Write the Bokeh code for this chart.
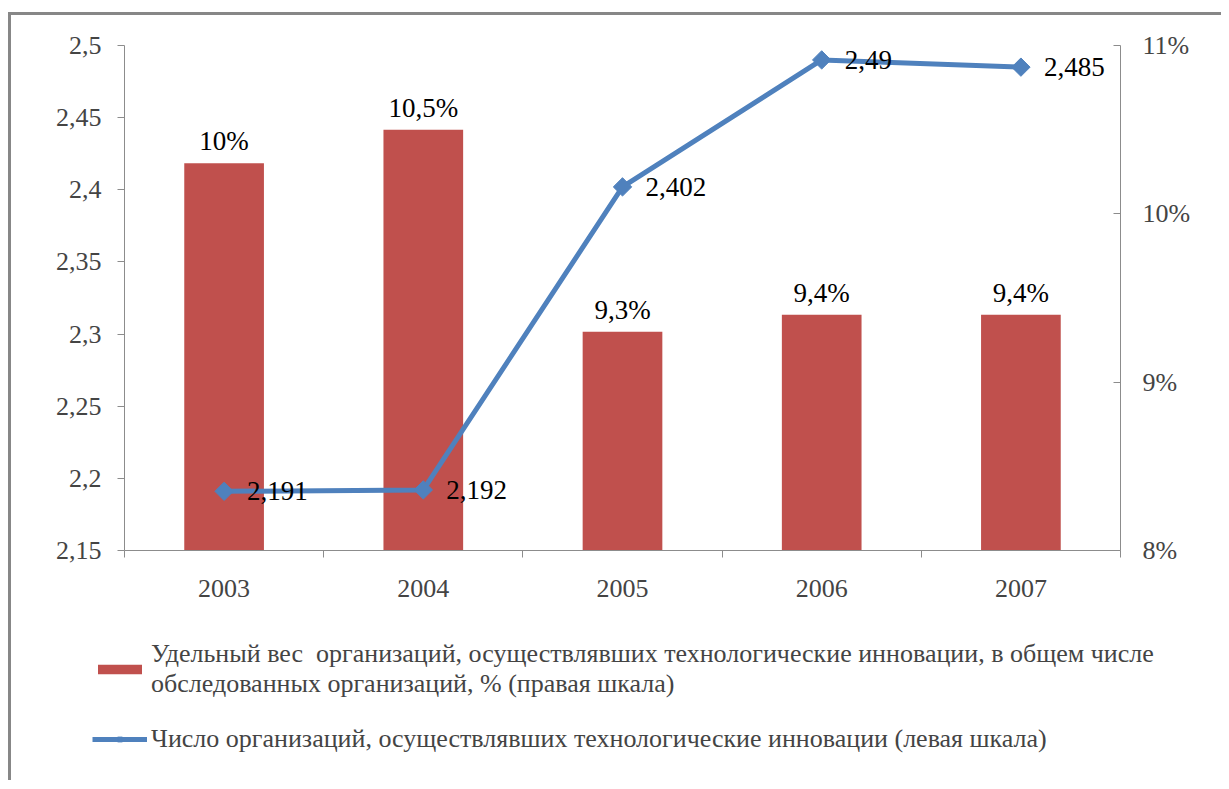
from bokeh.plotting import figure
from bokeh.models import (Range1d, LinearAxis, FixedTicker, CustomJSTickFormatter,
                          ColumnDataSource, Legend, LegendItem)
from bokeh.core.properties import value
from bokeh.embed import file_html
from bokeh.resources import INLINE

years = ["2003", "2004", "2005", "2006", "2007"]
share_pct = [10.3, 10.5, 9.3, 9.4, 9.4]
share_labels = ["10%", "10,5%", "9,3%", "9,4%", "9,4%"]
org_count = [2.191, 2.192, 2.402, 2.49, 2.485]
left_ticks = [2.15, 2.2, 2.25, 2.3, 2.35, 2.4, 2.45, 2.5]
right_ticks = [8, 9, 10, 11]
legend_bar = ("Удельный вес  организаций, осуществлявших технологические инновации, в общем числе\n"
              "обследованных организаций, % (правая шкала)")
legend_line = "Число организаций, осуществлявших технологические инновации (левая шкала)"

FONT = "Liberation Serif"
FS = "26px"
BAR = "#C0504D"
LINE = "#4F81BD"
AX = "#8C8C8C"

xs = [i + 0.5 for i in range(len(years))]
src = ColumnDataSource(dict(
    x=xs, share=share_pct, share_lbl=share_labels,
    cnt=org_count, cnt_lbl=[str(v).replace(".", ",") for v in org_count],
))

p = figure(output_backend="svg", toolbar_location=None,
           x_range=Range1d(0, len(years)), y_range=Range1d(left_ticks[0], left_ticks[-1]),
           min_border_left=113, min_border_right=101, min_border_top=30, min_border_bottom=70)
p.frame_width = 996
p.frame_height = 505
p.styles = {"border-top": "3px solid #878787", "border-left": "3px solid #878787",
            "margin-top": "12px", "margin-left": "8px"}
p.outline_line_color = None
p.grid.visible = False
p.background_fill_color = "white"
p.border_fill_color = "white"

p.extra_y_ranges = {"pct": Range1d(right_ticks[0], right_ticks[-1])}

p.vbar(x="x", top="share", bottom=right_ticks[0], width=0.4, source=src,
       y_range_name="pct", fill_color=BAR, line_color=None)
p.line(x="x", y="cnt", source=src, line_color=LINE, line_width=5)
p.scatter(x="x", y="cnt", source=src, marker="square", size=13, angle=0.785398,
          fill_color=LINE, line_color=LINE)

p.text(x="x", y="share", text="share_lbl", source=src, y_range_name="pct",
       text_align="center", text_baseline="bottom", y_offset=-7,
       text_font=value(FONT), text_font_size="27px", text_color="black")
p.text(x="x", y="cnt", text="cnt_lbl", source=src, x_offset=23,
       text_align="left", text_baseline="middle",
       text_font=value(FONT), text_font_size="27px", text_color="black")

# x axis
xa = p.xaxis[0]
xa.ticker = FixedTicker(ticks=xs, minor_ticks=list(range(len(years) + 1)))
xa.major_label_overrides = {x: y for x, y in zip(xs, years)}
xa.major_tick_out = 0
xa.major_tick_in = 0
xa.minor_tick_out = 7
xa.minor_tick_in = 0
xa.minor_tick_line_color = AX
xa.axis_line_color = AX
xa.major_label_standoff = 22
xa.major_label_text_font = FONT
xa.major_label_text_font_size = FS

# left axis
ya = p.yaxis[0]
ya.ticker = FixedTicker(ticks=left_ticks)
ya.formatter = CustomJSTickFormatter(code="return tick.toFixed(2).replace(/0+$/, '').replace('.', ',');")
ya.major_tick_out = 7
ya.major_tick_in = 0
ya.minor_tick_line_color = None
ya.major_tick_line_color = AX
ya.axis_line_color = AX
ya.major_label_standoff = 16
ya.major_label_text_font = FONT
ya.major_label_text_font_size = FS

# right axis
ra = LinearAxis(y_range_name="pct", ticker=FixedTicker(ticks=right_ticks),
                formatter=CustomJSTickFormatter(code="return tick.toFixed(0) + '%';"))
ra.major_tick_out = 0
ra.major_tick_in = 7
ra.minor_tick_line_color = None
ra.major_tick_line_color = AX
ra.axis_line_color = AX
ra.major_label_standoff = 22
ra.major_label_text_font = FONT
ra.major_label_text_font_size = FS
p.add_layout(ra, "right")

# legend panel: separate root figure; its renderers share the data but stay hidden
lg = figure(width=1210, height=160, output_backend="svg", toolbar_location=None,
            x_axis_type=None, y_axis_type=None, min_border=0,
            x_range=Range1d(0, 1), y_range=Range1d(0, 1))
lg.styles = {"border-left": "3px solid #878787", "margin-left": "8px"}
lg.outline_line_color = None
lg.background_fill_color = "white"
lg.border_fill_color = "white"
r_bar = lg.vbar(x="x", top="share", width=0.4, source=src, visible=False,
                fill_color=BAR, line_color=None)
r_line = lg.line(x="x", y="cnt", source=src, visible=False, line_color=LINE, line_width=5)
r_pts = lg.scatter(x="x", y="cnt", source=src, visible=False, marker="square", size=13,
                   angle=0.785398, fill_color=LINE, line_color=LINE)

legend = Legend(items=[LegendItem(label=legend_bar, renderers=[r_bar]),
                       LegendItem(label=legend_line, renderers=[r_line, r_pts])],
                location=(81, 26), orientation="vertical",
                glyph_width=55, glyph_height=12, label_standoff=4, spacing=25,
                padding=0, margin=0, click_policy="none",
                inactive_fill_alpha=0,
                label_text_font=FONT, label_text_font_size="26px",
                border_line_color=None, background_fill_alpha=0)
lg.add_layout(legend, "center")

open("out.html", "w").write(file_html([p, lg], INLINE))
